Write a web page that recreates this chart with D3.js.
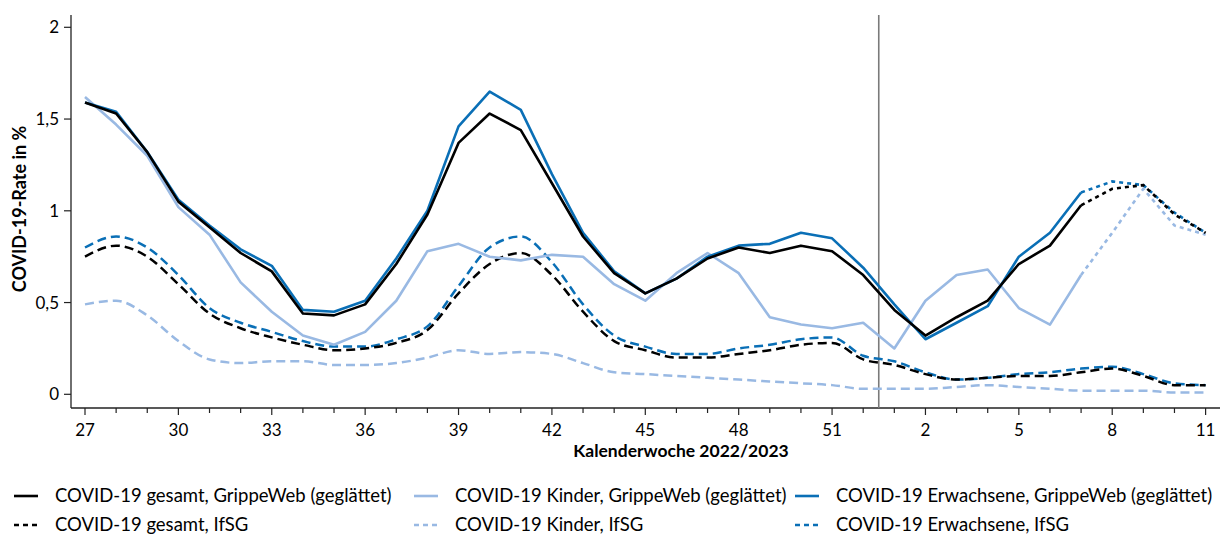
<!DOCTYPE html>
<html>
<head>
<meta charset="utf-8">
<script src="https://cdn.jsdelivr.net/npm/d3@7"></script>
<style>
  body { margin: 0; background: #fff; }
  svg { display: block; font-family: Lato, "Open Sans", sans-serif; }
</style>
</head>
<body>
<div id="chart"></div>
<script>
    // calendar weeks 2022/2023
    var weeks = [27, 28, 29, 30, 31, 32, 33, 34, 35, 36, 37, 38, 39, 40, 41, 42, 43, 44, 45, 46,
        47, 48, 49, 50, 51, 52, 1, 2, 3, 4, 5, 6, 7, 8, 9, 10, 11];
    var tickWeeks = [27, 30, 33, 36, 39, 42, 45, 48, 51, 2, 5, 8, 11];
    var yTicks = [0, 0.5, 1, 1.5, 2];

    // GrippeWeb (geglättet)
    var gesamtGW = [1.59, 1.53, 1.32, 1.05, 0.91, 0.77, 0.67, 0.44, 0.43, 0.49, 0.71, 0.98, 1.37, 1.53, 1.44, 1.15,
        0.86, 0.66, 0.55, 0.63, 0.74, 0.80, 0.77, 0.81, 0.78, 0.65, 0.46, 0.32, 0.42, 0.51, 0.71, 0.81, 1.03,
        1.12, 1.14, 0.98, 0.88];
    var kinderGW = [1.62, 1.47, 1.30, 1.02, 0.87, 0.61, 0.45, 0.32, 0.27, 0.34, 0.51, 0.78, 0.82, 0.75, 0.73, 0.76,
        0.75, 0.60, 0.51, 0.66, 0.77, 0.66, 0.42, 0.38, 0.36, 0.39, 0.25, 0.51, 0.65, 0.68, 0.47, 0.38, 0.65,
        0.88, 1.12, 0.92, 0.87];
    var erwachseneGW = [1.59, 1.54, 1.32, 1.06, 0.92, 0.79, 0.70, 0.46, 0.45, 0.51, 0.74, 1.00, 1.46, 1.65, 1.55, 1.20,
        0.88, 0.67, 0.55, 0.63, 0.75, 0.81, 0.82, 0.88, 0.85, 0.69, 0.49, 0.30, 0.39, 0.48, 0.75, 0.88, 1.10,
        1.16, 1.14, 0.99, 0.88];

    // IfSG
    var gesamtIfSG = [0.75, 0.81, 0.75, 0.60, 0.44, 0.36, 0.31, 0.27, 0.24, 0.25, 0.28, 0.35, 0.55, 0.71, 0.77, 0.65,
        0.45, 0.29, 0.24, 0.20, 0.20, 0.22, 0.24, 0.27, 0.28, 0.19, 0.16, 0.11, 0.08, 0.09, 0.10, 0.10, 0.12,
        0.14, 0.10, 0.05, 0.05];
    var kinderIfSG = [0.49, 0.51, 0.43, 0.29, 0.19, 0.17, 0.18, 0.18, 0.16, 0.16, 0.17, 0.20, 0.24, 0.22, 0.23, 0.22,
        0.17, 0.12, 0.11, 0.10, 0.09, 0.08, 0.07, 0.06, 0.05, 0.03, 0.03, 0.03, 0.04, 0.05, 0.04, 0.03, 0.02,
        0.02, 0.02, 0.01, 0.01];
    var erwachseneIfSG = [0.80, 0.86, 0.80, 0.65, 0.47, 0.39, 0.34, 0.29, 0.26, 0.26, 0.30, 0.37, 0.59, 0.80, 0.86, 0.72,
        0.49, 0.32, 0.26, 0.22, 0.22, 0.25, 0.27, 0.30, 0.31, 0.21, 0.18, 0.12, 0.08, 0.09, 0.11, 0.12, 0.14,
        0.15, 0.11, 0.06, 0.05];

    var legendLabels = [
        "COVID-19 gesamt, GrippeWeb (geglättet)", "COVID-19 Kinder, GrippeWeb (geglättet)",
        "COVID-19 Erwachsene, GrippeWeb (geglättet)",
        "COVID-19 gesamt, IfSG", "COVID-19 Kinder, IfSG", "COVID-19 Erwachsene, IfSG"
    ];

    var black = "#000000", lightBlue = "#99b9e3", blue = "#0a6fb6";
    var preliminaryFrom = 32; // index of week 7, GrippeWeb drawn dotted after that

    var width = 1221, height = 536;
    var svg = d3.select("#chart").append("svg")
        .attr("width", width)
        .attr("height", height);

    var x = d3.scaleLinear().domain([0, weeks.length - 1]).range([85, 1205.6]);
    var y = d3.scaleLinear().domain([0, 2]).range([394.3, 27.3]);
    var axisTop = 15, axisBottom = 408, axisLeft = 71, axisRight = 1220;

    // axes lines
    svg.append("line")
        .attr("x1", axisLeft).attr("x2", axisLeft)
        .attr("y1", axisTop).attr("y2", axisBottom)
        .attr("stroke", "#222").attr("stroke-width", 1.3);
    svg.append("line")
        .attr("x1", axisLeft).attr("x2", axisRight)
        .attr("y1", axisBottom).attr("y2", axisBottom)
        .attr("stroke", "#222").attr("stroke-width", 1.3);

    // y ticks
    var yFmt = function (d) { return String(d).replace(".", ","); };
    svg.selectAll("line.ytick")
        .data(yTicks).enter().append("line")
        .attr("class", "ytick")
        .attr("x1", axisLeft - 7).attr("x2", axisLeft)
        .attr("y1", function (d) { return y(d); })
        .attr("y2", function (d) { return y(d); })
        .attr("stroke", "#222").attr("stroke-width", 1.2);
    svg.selectAll("text.ylab")
        .data(yTicks).enter().append("text")
        .attr("class", "ylab")
        .attr("x", 59)
        .attr("y", function (d) { return y(d); })
        .attr("dy", "0.35em")
        .attr("text-anchor", "end")
        .attr("font-size", 17)
        .text(yFmt);

    // x ticks, every week, labelled every 3rd
    svg.selectAll("line.xtick")
        .data(weeks).enter().append("line")
        .attr("class", "xtick")
        .attr("x1", function (d, i) { return x(i); })
        .attr("x2", function (d, i) { return x(i); })
        .attr("y1", axisBottom)
        .attr("y2", function (d) { return tickWeeks.indexOf(d) >= 0 ? axisBottom + 7 : axisBottom + 5; })
        .attr("stroke", "#222").attr("stroke-width", 1.2);
    svg.selectAll("text.xlab")
        .data(weeks).enter()
        .filter(function (d) { return tickWeeks.indexOf(d) >= 0; })
        .append("text")
        .attr("class", "xlab")
        .attr("x", function (d) { return x(weeks.indexOf(d)); })
        .attr("y", 436)
        .attr("text-anchor", "middle")
        .attr("font-size", 17)
        .text(function (d) { return d; });

    // axis titles
    svg.append("text")
        .attr("x", 681).attr("y", 457)
        .attr("text-anchor", "middle")
        .attr("font-size", 17.5).attr("font-weight", "bold")
        .text("Kalenderwoche 2022/2023");
    svg.append("text")
        .attr("transform", "translate(26,209) rotate(-90)")
        .attr("text-anchor", "middle")
        .attr("font-size", 18).attr("font-weight", "bold")
        .text("COVID-19-Rate in %");

    // year change
    svg.append("line")
        .attr("x1", x(25.5)).attr("x2", x(25.5))
        .attr("y1", axisTop).attr("y2", axisBottom)
        .attr("stroke", "#7a7a7a").attr("stroke-width", 1.6);

    var straight = d3.line()
        .x(function (d) { return x(d.i); })
        .y(function (d) { return y(d.v); });
    var smooth = d3.line()
        .curve(d3.curveMonotoneX)
        .x(function (d) { return x(d.i); })
        .y(function (d) { return y(d.v); });

    function pts(arr) {
        return arr.map(function (v, i) { return {i: i, v: v}; });
    }

    // IfSG dashed
    [[kinderIfSG, lightBlue], [erwachseneIfSG, blue], [gesamtIfSG, black]].forEach(function (s) {
        svg.append("path")
            .attr("d", smooth(pts(s[0])))
            .attr("fill", "none")
            .attr("stroke", s[1])
            .attr("stroke-width", 2.5)
            .attr("stroke-dasharray", "9,5");
    });

    // GrippeWeb solid, preliminary weeks dotted
    [[kinderGW, lightBlue], [erwachseneGW, blue], [gesamtGW, black]].forEach(function (s) {
        var p = pts(s[0]);
        svg.append("path")
            .attr("d", straight(p.slice(0, preliminaryFrom + 1)))
            .attr("fill", "none")
            .attr("stroke", s[1])
            .attr("stroke-width", 2.6)
            .attr("stroke-linejoin", "round");
        svg.append("path")
            .attr("d", straight(p.slice(preliminaryFrom)))
            .attr("fill", "none")
            .attr("stroke", s[1])
            .attr("stroke-width", 2.6)
            .attr("stroke-dasharray", "4,4");
    });

    // legend
    var legendColors = [black, lightBlue, blue, black, lightBlue, blue];
    var colX = [14, 414, 795];
    var rowY = [496, 525];
    var leg = svg.selectAll("g.leg")
        .data(legendLabels).enter().append("g")
        .attr("class", "leg")
        .attr("transform", function (d, i) {
            return "translate(" + colX[i % 3] + "," + rowY[Math.floor(i / 3)] + ")";
        });
    leg.append("line")
        .attr("x1", 0).attr("x2", 24)
        .attr("y1", 0).attr("y2", 0)
        .attr("stroke", function (d, i) { return legendColors[i]; })
        .attr("stroke-width", 2.6)
        .attr("stroke-dasharray", function (d, i) { return i < 3 ? null : "5,4"; });
    leg.append("text")
        .attr("x", 41)
        .attr("dy", "0.35em")
        .attr("font-size", 18.5)
        .text(function (d) { return d; });
</script>
</body>
</html>
